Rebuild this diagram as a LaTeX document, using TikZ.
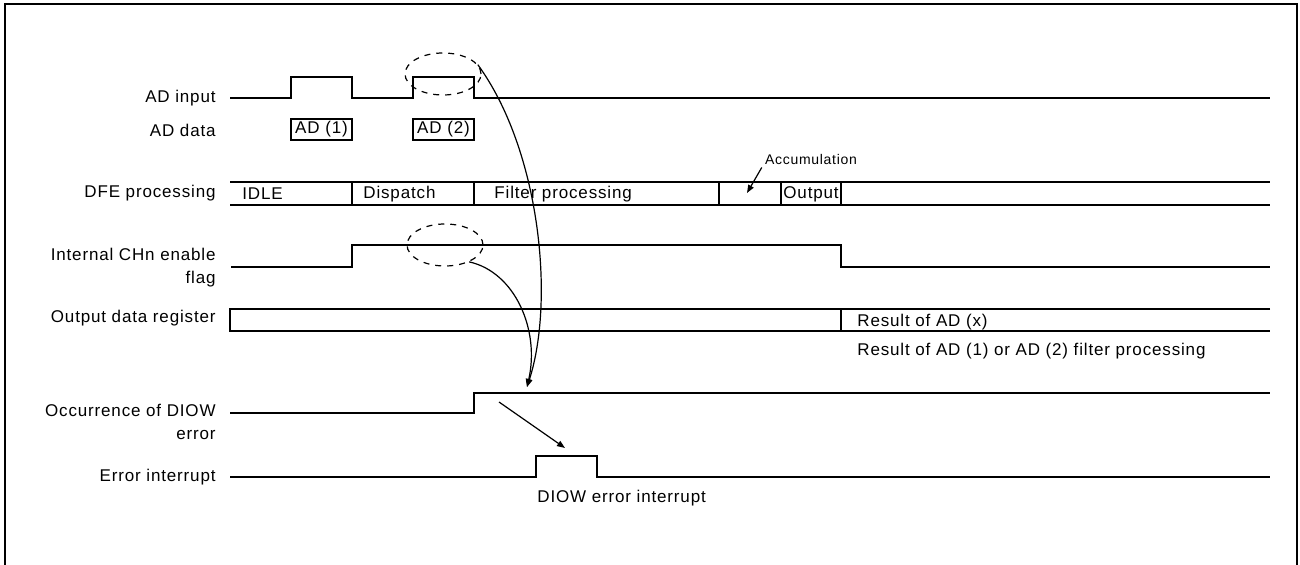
\documentclass[tikz,border=0pt]{standalone}
\usepackage{fontspec}
\setmainfont{Liberation Sans}[LetterSpace=5]
\usetikzlibrary{arrows.meta,shapes.geometric}

\begin{document}
\begin{tikzpicture}[x=0.5pt,y=-0.5pt,
      sig/.style={line width=1pt},
      arr/.style={-{Triangle[length=4pt,width=3pt]}, line width=0.6pt},
      lbl/.style={anchor=east, align=right, inner sep=0pt,
                  font=\fontsize{8.5}{11.5}\selectfont},
      txt/.style={anchor=west, inner sep=0pt,
                  font=\fontsize{8.5}{11.5}\selectfont},
      databox/.style={draw, line width=0.6pt, inner sep=0pt,
                      minimum width=30.5pt, minimum height=10.5pt,
                      font=\fontsize{8.5}{11.5}\selectfont},
      ring/.style={ellipse, draw, dashed, line width=0.6pt,
                   minimum width=38pt, minimum height=21pt}
    ]
    \useasboundingbox (0,0) rectangle (1300,565);
    \draw[line width=1.2pt] (5,565) -- (5,4) -- (1297,4) -- (1297,565);

    % signal names
    \node[lbl] (l-in)   at (216,98)  {AD input};
    \node[lbl] (l-data) at (216,130) {AD data};
    \node[lbl] (l-dfe)  at (216,193) {DFE processing};
    \node[lbl] (l-flag) at (216,268) {Internal CHn enable\\flag};
    \node[lbl] (l-reg)  at (216,318) {Output data register};
    \node[lbl] (l-err)  at (216,422) {Occurrence of DIOW\\error};
    \node[lbl] (l-int)  at (216,477) {Error interrupt};

    % AD input and data
    \draw[sig] (230,98) -- (291,98) -- (291,77) -- (352,77) -- (352,98)
      -- (413,98) -- (413,77) -- (474,77) -- (474,98) -- (1270,98);
    \node[databox] (ad1) at (321.5,129.5) {AD (1)};
    \node[databox] (ad2) at (443.5,129.5) {AD (2)};

    % DFE processing
    \draw[sig] (230,182) -- (1270,182) (230,205) -- (1270,205);
    \foreach \x in {352,474,719,781,841}
      \draw[sig] (\x,182) -- (\x,205);
    \node[txt] (idle)  at (242,194) {IDLE};
    \node[txt] (disp)  at (363,194) {Dispatch};
    \node[txt] (filt)  at (494,194) {Filter processing};
    \node[txt] (outp)  at (783,194) {Output};
    \node[font=\fontsize{7}{9}\selectfont, inner sep=0pt] (acc) at (811,160) {Accumulation};
    \coordinate (acctip) at (747,193);
    \draw[arr] ([xshift=-1.5pt,yshift=-1pt]acc.south west) -- (acctip);

    % enable flag
    \draw[sig] (231,267) -- (352,267) -- (352,245) -- (841,245) -- (841,267) -- (1270,267);

    % output data register
    \draw[sig] (1270,309) -- (230,309) -- (230,331) -- (1270,331);
    \draw[sig] (841,309) -- (841,331);
    \node[txt] (res)  at (857,322) {Result of AD (x)};
    \node[txt] (res2) at (857,351) {Result of AD (1) or AD (2) filter processing};

    % DIOW error
    \draw[sig] (230,413) -- (474,413) -- (474,393) -- (1270,393);
    \draw[sig] (230,477) -- (536,477) -- (536,456) -- (597,456) -- (597,477) -- (1270,477);
    \node[txt] (intx) at (537,498) {DIOW error interrupt};

    % causes
    \node[ring] (ring1) at (443,74) {};
    \node[ring] (ring2) at (445,245) {};
    \coordinate (hit) at (527,387);
    \draw[arr] (ring1.15) .. controls (540,150) and (555,300) .. (hit);
    \draw[arr] (ring2.-35) .. controls (515,272) and (540,330) .. (hit);
    \coordinate (e0) at (499,402);
    \coordinate (e1) at (565,448);
    \draw[arr] (e0) -- (e1);
  \end{tikzpicture}
\end{document}
